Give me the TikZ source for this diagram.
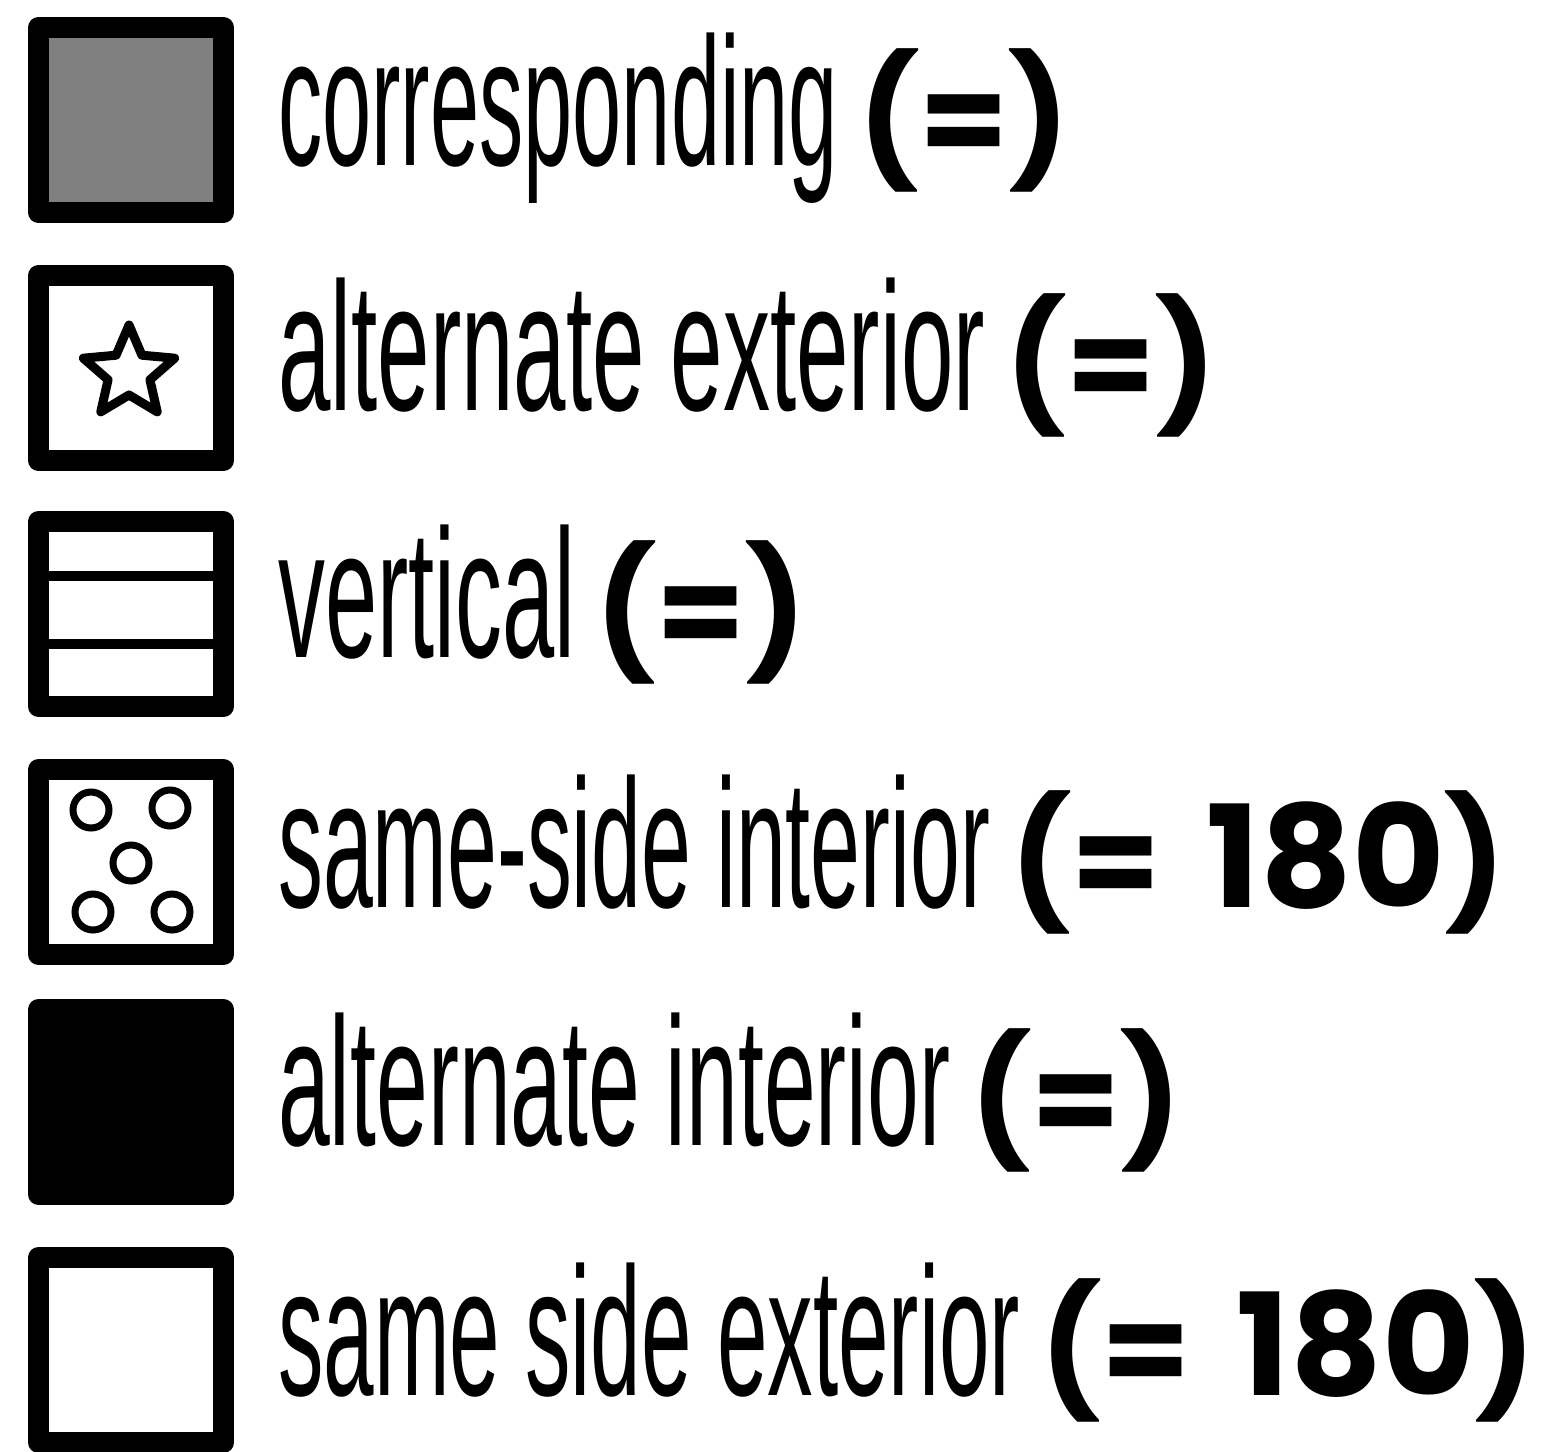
\documentclass[tikz,border=0pt]{standalone}
\usepackage{fontspec}
\setmainfont{Liberation Sans}
\newfontfamily\eqfont{Poppins}
\usetikzlibrary{positioning}

\begin{document}
\begin{tikzpicture}[x=1pt,y=-1pt,node distance=20pt,
    key box/.style={draw,line width=21pt,line join=round,minimum size=185pt,inner sep=0pt,outer sep=0pt},
    key mark/.style={line width=9pt,line join=round},
    key text/.style={anchor=base west,inner sep=0pt,font=\fontsize{183}{183}\selectfont},
    eq text/.style={inner sep=0pt,font=\eqfont\bfseries\fontsize{128}{128}\selectfont}]
  \useasboundingbox (0,0) rectangle (1541,1451);
  % legend boxes
  \node[key box,fill=black!50] (corr) at (131,120) {};
  \node[key box] (altext) at (131,368) {};
  \node[key box] (vert) at (131,614) {};
  \node[key box] (ssint) at (131,862) {};
  \node[key box,fill=black] (altint) at (131,1102) {};
  \node[key box] (ssext) at (131,1350) {};
  % marks inside the boxes
  \coordinate (star) at ([shift={(-2,5)}]altext.center);
  \begin{scope}[shift={(star)}]
    \draw[key mark] (-90:48) \foreach \a in {1,...,9} {-- ({-90+36*\a}:{48-26*mod(\a,2)})} -- cycle;
  \end{scope}
  \draw[line width=10pt] ([yshift=38pt]vert.west) -- ([yshift=38pt]vert.east);
  \draw[line width=10pt] ([yshift=-30pt]vert.west) -- ([yshift=-30pt]vert.east);
  \foreach \dx/\dy in {-40/-52,39/-54,0/1,-38/50,41/50}
    \draw[line width=7pt] ([shift={(\dx,\dy)}]ssint.center) circle (18pt);
  % labels
  \node[key text] (corr label) at (278,165) {\resizebox{560pt}{\height}{corresponding}};
  \node[eq text,right=of corr label.base east,anchor=base west] (corr eq) {(=)};
  \node[key text] (altext label) at (278,410) {\resizebox{707pt}{\height}{alternate exterior}};
  \node[eq text,right=of altext label.base east,anchor=base west] (altext eq) {(=)};
  \node[key text] (vert label) at (278,657) {\resizebox{297pt}{\height}{vertical}};
  \node[eq text,right=of vert label.base east,anchor=base west] (vert eq) {(=)};
  \node[key text] (ssint label) at (278,907) {\resizebox{712pt}{\height}{same-side interior}};
  \node[eq text,right=of ssint label.base east,anchor=base west] (ssint eq)
    {(=\hspace{46pt}{\fontsize{142}{142}\selectfont 180})};
  \node[key text] (altint label) at (278,1145) {\resizebox{672pt}{\height}{alternate interior}};
  \node[eq text,right=of altint label.base east,anchor=base west] (altint eq) {(=)};
  \node[key text] (ssext label) at (278,1395) {\resizebox{742pt}{\height}{same side exterior}};
  \node[eq text,right=of ssext label.base east,anchor=base west] (ssext eq)
    {(=\hspace{46pt}{\fontsize{142}{142}\selectfont 180})};
\end{tikzpicture}
\end{document}
